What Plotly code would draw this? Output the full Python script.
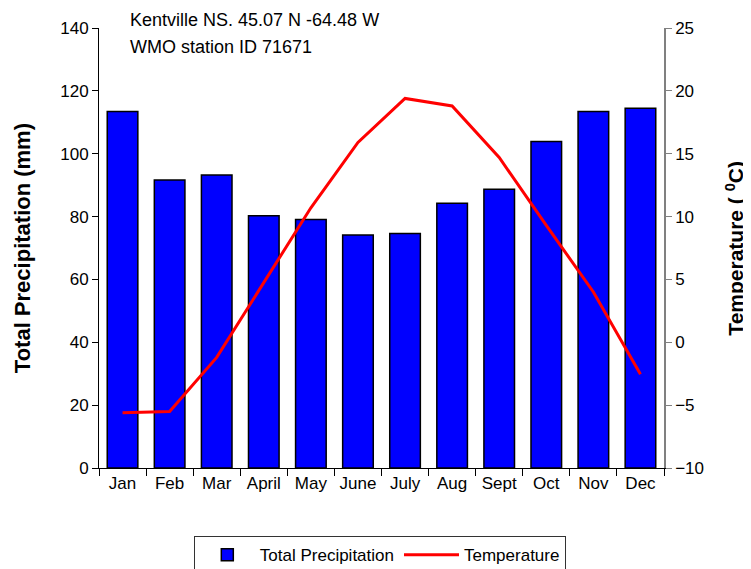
import plotly.graph_objects as go

months = ['Jan', 'Feb', 'Mar', 'April', 'May', 'June', 'July', 'Aug', 'Sept', 'Oct', 'Nov', 'Dec']
precip_mm = [113.4, 91.6, 93.2, 80.3, 79.1, 74.1, 74.6, 84.2, 88.7, 103.9, 113.4, 114.5]
temp_c = [-5.6, -5.5, -1.2, 4.8, 10.7, 15.9, 19.4, 18.8, 14.7, 9.3, 4.0, -2.55]

left_ticks = [0, 20, 40, 60, 80, 100, 120, 140]
right_ticks = [-10, -5, 0, 5, 10, 15, 20, 25]

font_name = 'Liberation Sans, Arial, sans-serif'

fig = go.Figure()

# Precipitation bars
fig.add_trace(go.Bar(
    x=months, y=precip_mm, name='Total Precipitation',
    marker=dict(color='#0000FF', line=dict(color='black', width=1.5)),
    yaxis='y'
))

# Temperature line on the right axis
fig.add_trace(go.Scatter(
    x=months, y=temp_c, name='Temperature', mode='lines',
    line=dict(color='#FF0000', width=3),
    yaxis='y2'
))

# page body adds an 8px offset, so the figure is 8px smaller than the window
fig.update_layout(
    width=743, height=561,
    margin=dict(l=91, r=87, t=20, b=101, autoexpand=False),
    paper_bgcolor='white', plot_bgcolor='white',
    font=dict(family=font_name, size=17, color='black'),
    bargap=0.35,
    showlegend=True,
    legend=dict(
        orientation='h', x=0.497, xanchor='center', y=-0.155, yanchor='top',
        bordercolor='#333', borderwidth=1, font=dict(size=17),
        itemwidth=55, traceorder='normal'
    ),
    xaxis=dict(
        showline=True, linecolor='black', linewidth=1,
        ticks='outside', tickson='boundaries', ticklen=7, tickcolor='black',
        showgrid=False, tickfont=dict(size=17), tickangle=0, automargin=False
    ),
    yaxis=dict(
        range=[0, 140], tickvals=left_ticks,
        showline=True, linecolor='black', linewidth=1,
        ticks='outside', ticklen=6, tickcolor='black',
        showgrid=False, zeroline=False, tickfont=dict(size=17), automargin=False
    ),
    # inner half of the crossing ticks on the left axis
    yaxis3=dict(
        range=[0, 140], tickvals=left_ticks, overlaying='y', side='left',
        ticks='inside', ticklen=6, tickcolor='black', showticklabels=False,
        showline=False, showgrid=False, zeroline=False, automargin=False
    ),
    yaxis2=dict(
        range=[-10, 25], tickvals=right_ticks, overlaying='y', side='right',
        showline=True, linecolor='#808080', linewidth=1.5,
        ticks='outside', ticklen=6, tickcolor='#808080',
        showgrid=False, zeroline=False, tickfont=dict(size=17), automargin=False
    ),
    annotations=[
        dict(text='Kentville NS. 45.07 N -64.48 W', xref='paper', yref='paper',
             x=0.051, y=1.018, xanchor='left', yanchor='middle', showarrow=False,
             font=dict(size=18)),
        dict(text='WMO station ID 71671', xref='paper', yref='paper',
             x=0.051, y=0.957, xanchor='left', yanchor='middle', showarrow=False,
             font=dict(size=18)),
        dict(text='<b>Total Precipitation (mm)</b>', xref='paper', yref='paper',
             x=-0.136, y=0.5, xanchor='center', yanchor='middle', showarrow=False,
             textangle=-90, font=dict(size=22)),
        dict(text='<b>Temperature ( <sup>0</sup>C)</b>', xref='paper', yref='paper',
             x=1.125, y=0.5, xanchor='center', yanchor='middle', showarrow=False,
             textangle=-90, font=dict(size=21)),
    ]
)

fig.write_html('out.html')
